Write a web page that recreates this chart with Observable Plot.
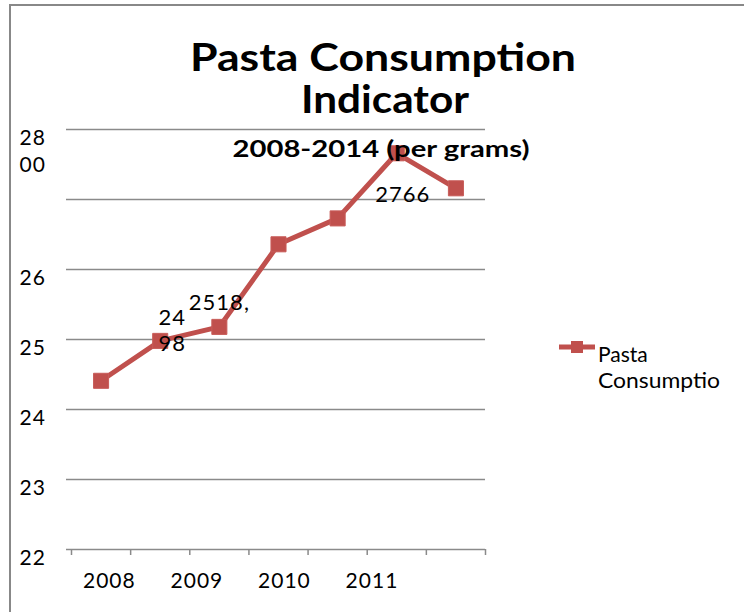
<!DOCTYPE html>
<html><head><meta charset="utf-8">
<script src="https://cdn.jsdelivr.net/npm/d3@7"></script>
<script src="https://cdn.jsdelivr.net/npm/@observablehq/plot@0.6"></script>
<style>
body{margin:0;background:#fff;}
#wrap{position:relative;width:744px;height:612px;overflow:hidden;font-family:Lato,sans-serif;background:#fff;}
#frame{position:absolute;left:9px;top:4px;width:800px;height:700px;border-top:2px solid #888;border-left:2px solid #888;}
#wrap svg{position:absolute;left:0;top:0;}
</style></head><body><div id="wrap"><div id="frame"></div></div>
<script>
// ---- data ----
const titleLines = ["Pasta Consumption", "Indicator"];
const subtitle = "2008-2014 (per grams)";
const legendLines = ["Pasta", "Consumptio"];
const years = [2008, 2009, 2010, 2011, 2012, 2013, 2014];
const consumption = [2441, 2498, 2518, 2636, 2673, 2766, 2716];
const pointLabels = [null, "24\n98", "2518,", null, null, "2766", null];
const yTicks = [2200, 2300, 2400, 2500, 2600, 2700, 2800];
const yTickLabels = ["22", "23", "24", "25", "26", "", "28\n00"];
const xTickLabels = ["2008", "2009", "2010", "2011"];

const red = "#C0504D";
const gray = "#8a8a8a";
const data = years.map((year, i) => ({i, year, value: consumption[i], label: pointLabels[i]}));
const px = d => d.i + 0.5;

const labelMark = (idx, dx, dy) => Plot.text(data.filter(d => d.i === idx), {
  x: px, y: "value", text: "label", lineAnchor: "top", dx, dy,
  fontSize: 22, lineHeight: 1.21, fill: "#000"
});

const chart = Plot.plot({
  width: 744, height: 612,
  marginLeft: 71, marginRight: 259, marginTop: 129, marginBottom: 63,
  x: {type: "linear", domain: [0, years.length]},
  y: {domain: [2200, 2800], axis: null},
  style: {fontFamily: "Lato, sans-serif", background: "transparent", overflow: "visible", color: "#000"},
  marks: [
    Plot.ruleY(yTicks, {stroke: gray, strokeWidth: 1.5, insetLeft: -5}),
    Plot.axisX(d3.range(years.length + 1), {tickSize: 6, tickFormat: () => "", stroke: gray, strokeWidth: 1.5, label: null}),
    Plot.text(yTicks, {y: d => d, text: (d, i) => yTickLabels[i], frameAnchor: "left", textAnchor: "start",
      lineAnchor: "top", dx: -52, dy: -3, fontSize: 21, lineHeight: 1.27, fill: "#000"}),
    Plot.text(xTickLabels, {x: (d, i) => 0.64 + i * 1.48, text: d => d, frameAnchor: "bottom",
      lineAnchor: "top", dy: 24, fontSize: 21, fill: "#000"}),
    Plot.line(data, {x: px, y: "value", stroke: red, strokeWidth: 5}),
    Plot.dot(data, {x: px, y: "value", symbol: "square", r: 8.5, fill: red, stroke: "#c85c59", strokeWidth: 1}),
    labelMark(1, 12, -35),
    labelMark(2, 0, -36),
    labelMark(5, 6, 30)
  ]
});
chart.querySelectorAll("text").forEach(t => t.style.letterSpacing = "1px");
const wrap = document.getElementById("wrap");
wrap.appendChild(chart);

// ---- overlay: titles and legend ----
const ov = d3.select(wrap).append("svg").attr("width", 744).attr("height", 612)
  .style("font-family", "Lato, sans-serif");
const tl = ov.append("g").attr("font-weight", "bold").attr("text-anchor", "middle");
tl.append("text").attr("x", 383).attr("y", 71).attr("font-size", 39)
  .attr("textLength", 386).attr("lengthAdjust", "spacingAndGlyphs").text(titleLines[0]);
tl.append("text").attr("x", 385).attr("y", 113).attr("font-size", 39)
  .attr("textLength", 168).attr("lengthAdjust", "spacingAndGlyphs").text(titleLines[1]);
tl.append("text").attr("x", 381).attr("y", 157).attr("font-size", 23)
  .attr("textLength", 297).attr("lengthAdjust", "spacingAndGlyphs").text(subtitle);

const lg = ov.append("g");
lg.append("line").attr("x1", 559).attr("x2", 595).attr("y1", 347).attr("y2", 347)
  .attr("stroke", red).attr("stroke-width", 5);
lg.append("rect").attr("x", 571).attr("y", 341).attr("width", 12).attr("height", 12).attr("fill", red);
lg.append("text").attr("x", 598).attr("y", 362).attr("font-size", 21).text(legendLines[0]);
lg.append("text").attr("x", 598).attr("y", 388).attr("font-size", 21)
  .attr("textLength", 122).attr("lengthAdjust", "spacingAndGlyphs").text(legendLines[1]);
</script></body></html>
